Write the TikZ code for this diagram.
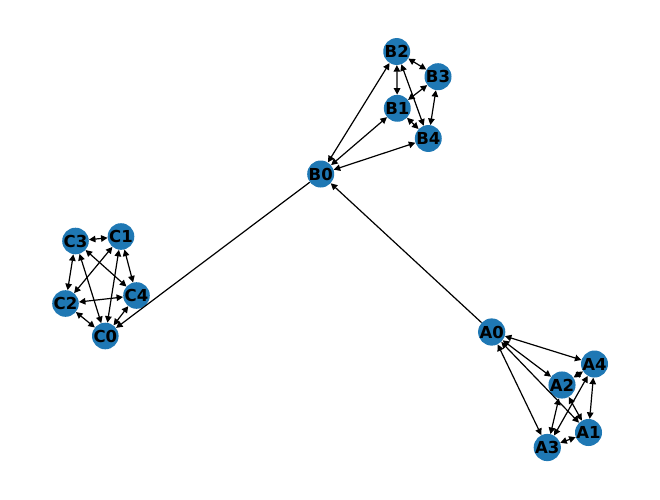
\documentclass[tikz,border=0pt]{standalone}
\usepackage{fontspec}
\setmainfont{DejaVu Sans}
\usetikzlibrary{arrows.meta}
\definecolor{nxblue}{HTML}{1F78B4}
\tikzset{
  vtx/.style={circle, fill=nxblue, minimum size=25pt, inner sep=0pt, font=\bfseries\fontsize{16.5}{17}\selectfont, text=black},
  edg/.style={line width=1.2pt, -{Triangle[length=6.5pt,width=6.5pt]}},
  bedg/.style={line width=1.2pt, {Triangle[length=6.5pt,width=6.5pt]}-{Triangle[length=6.5pt,width=6.5pt]}}
}
\begin{document}
\begin{tikzpicture}[x=1pt,y=-1pt]
\useasboundingbox (0,0) rectangle (660,499);
% B cluster
\node[vtx] (B0) at (320.7,174) {B0};
\node[vtx] (B1) at (397.3,108.3) {B1};
\node[vtx] (B2) at (396.7,51.5) {B2};
\node[vtx] (B3) at (438,76.7) {B3};
\node[vtx] (B4) at (428.3,138.5) {B4};
% C cluster
\node[vtx] (C0) at (105.3,336) {C0};
\node[vtx] (C1) at (121,236.5) {C1};
\node[vtx] (C2) at (65.5,303.5) {C2};
\node[vtx] (C3) at (75.5,241) {C3};
\node[vtx] (C4) at (136.5,295.5) {C4};
% A cluster
\node[vtx] (A0) at (491.7,332) {A0};
\node[vtx] (A1) at (588.5,432.5) {A1};
\node[vtx] (A2) at (562,385) {A2};
\node[vtx] (A3) at (547.3,447.5) {A3};
\node[vtx] (A4) at (594.5,364) {A4};
% inter-cluster
\draw[edg] (A0) -- (B0);
\draw[edg] (B0) -- (C0);
% B edges
\draw[bedg] (B0) -- (B1);
\draw[bedg] (B0) -- (B2);
\draw[bedg] (B0) -- (B4);
\draw[bedg] (B1) -- (B2);
\draw[bedg] (B1) -- (B3);
\draw[bedg] (B1) -- (B4);
\draw[bedg] (B2) -- (B3);
\draw[bedg] (B2) -- (B4);
\draw[bedg] (B3) -- (B4);
% C edges
\draw[bedg] (C0) -- (C1);
\draw[bedg] (C0) -- (C2);
\draw[bedg] (C0) -- (C3);
\draw[bedg] (C0) -- (C4);
\draw[bedg] (C1) -- (C2);
\draw[bedg] (C1) -- (C3);
\draw[bedg] (C1) -- (C4);
\draw[bedg] (C2) -- (C3);
\draw[bedg] (C2) -- (C4);
\draw[bedg] (C3) -- (C4);
% A edges
\draw[bedg] (A0) -- (A1);
\draw[bedg] (A0) -- (A2);
\draw[bedg] (A0) -- (A3);
\draw[bedg] (A0) -- (A4);
\draw[bedg] (A1) -- (A2);
\draw[bedg] (A1) -- (A3);
\draw[bedg] (A1) -- (A4);
\draw[bedg] (A2) -- (A3);
\draw[bedg] (A2) -- (A4);
\draw[bedg] (A3) -- (A4);
\end{tikzpicture}
\end{document}
